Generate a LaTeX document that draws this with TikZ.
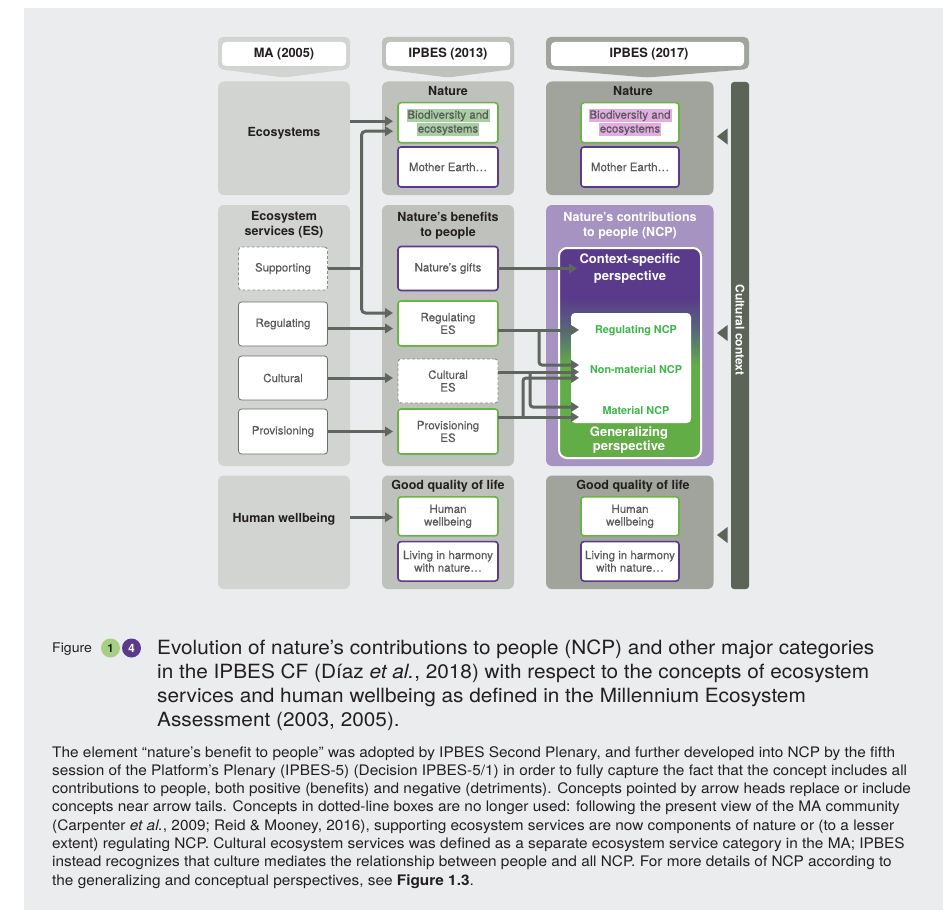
\documentclass[tikz,border=0pt]{standalone}
\usepackage{fontspec}
\setmainfont{TeX Gyre Heros}
\newfontfamily\medfont[FakeBold=0.3]{TeX Gyre Heros}
\newfontfamily\widefont[FakeStretch=1.06]{TeX Gyre Heros}
\usetikzlibrary{arrows.meta,calc}

\definecolor{panel}{HTML}{EBECED}
\definecolor{cone}{HTML}{D2D4D1}
\definecolor{ctwo}{HTML}{BFC1BC}
\definecolor{cthree}{HTML}{A0A49D}
\definecolor{barc}{HTML}{5C6459}
\definecolor{arrc}{HTML}{5E665F}
\definecolor{ncpbg}{HTML}{A793C1}
\definecolor{gbord}{HTML}{6AB446}
\definecolor{pbord}{HTML}{5B3A8D}
\definecolor{txtd}{HTML}{231F20}
\definecolor{txtg}{HTML}{58595B}
\definecolor{ncpg}{HTML}{3DB54A}
\definecolor{hlgreen}{HTML}{A8CFA2}
\definecolor{hlpink}{HTML}{E3ADE2}
\definecolor{gradg}{HTML}{62AD45}
\definecolor{gradm}{HTML}{586A78}
\definecolor{gradp}{HTML}{5A3B8B}
\definecolor{circg}{HTML}{A5CF82}
\definecolor{oboxc}{HTML}{6D6E71}
\definecolor{dashc}{HTML}{8A8B8D}

\pgfdeclareverticalshading{ncpshade}{100bp}{color(0bp)=(gradg); color(25bp)=(gradg); color(47bp)=(gradg); color(55bp)=(gradm); color(63bp)=(gradp); color(100bp)=(gradp)}

\newcommand\hlG[1]{{\setlength{\fboxsep}{1pt}\colorbox{hlgreen}{\vphantom{Bg}#1}}}
\newcommand\hlP[1]{{\setlength{\fboxsep}{1pt}\colorbox{hlpink}{\vphantom{Bg}#1}}}

\tikzset{
 hdr/.style={font=\bfseries\fontsize{12.8}{14}\selectfont, text=txtd, inner sep=0pt},
 ttl/.style={font=\bfseries\fontsize{12.5}{15}\selectfont, text=txtd, align=center, inner sep=0pt},
 wttl/.style={ttl, text=white},
 bgbox/.style={rectangle, rounded corners=6pt, inner sep=0pt, outer sep=0pt},
 ibox/.style={rectangle, rounded corners=3pt, fill=white, line width=1.6pt, inner sep=0pt, outer sep=0pt, align=center, font=\medfont\fontsize{11.5}{12.6}\selectfont, text=txtg, minimum width=100pt},
 gbox/.style={ibox, draw=gbord},
 pbox/.style={ibox, draw=pbord},
 obox/.style={ibox, draw=oboxc, line width=0.8pt, minimum width=89pt},
 dbox/.style={ibox, draw=dashc, line width=0.9pt, dash pattern=on 3pt off 2pt},
 arr/.style={draw=arrc, line width=3pt, -{Triangle[length=8pt,width=9.5pt]}},
 arrb/.style={arr, shorten >=5pt},
 lnk/.style={draw=arrc, line width=3pt},
 ncpl/.style={font=\bfseries\fontsize{10.8}{12}\selectfont, text=ncpg, inner sep=0pt},
 captl/.style={anchor=base west, inner sep=0pt, text=txtd, font=\widefont\fontsize{19.6}{22}\selectfont},
 bodyl/.style={anchor=base west, inner sep=0pt, text=txtd, font=\widefont\fontsize{14.5}{16}\selectfont},
}

\begin{document}
\begin{tikzpicture}[x=1pt,y=-1pt]
\useasboundingbox (0,0) rectangle (952,923);
\fill[white] (0,0) rectangle (952,923);
\fill[panel] (24,8) rectangle (943,910);

% headers
\fill[cone, rounded corners=5pt] (218,37) -- (350,37) -- (350,69) -- (284,77.5) -- (218,69) -- cycle;
\fill[white, rounded corners=4pt] (222,42) rectangle (346,66);
\node[hdr] (hma) at (284,54) {MA (2005)};
\fill[ctwo, rounded corners=5pt] (382,37) -- (514,37) -- (514,69) -- (448,77.5) -- (382,69) -- cycle;
\fill[white, rounded corners=4pt] (386,42) rectangle (510,66);
\node[hdr] (hib13) at (448,54) {IPBES (2013)};
\fill[cthree, rounded corners=5pt] (546,37) -- (749,37) -- (749,69) -- (647.5,77.5) -- (546,69) -- cycle;
\fill[white, rounded corners=4pt] (551,42) rectangle (744,66);
\node[hdr] (hib17) at (649,54) {IPBES (2017)};

% column backgrounds
\node[bgbox, fill=cone, minimum width=132pt, minimum height=113.5pt] (r1c1) at (284,138.25) {};
\node[bgbox, fill=ctwo, minimum width=132pt, minimum height=113.5pt] (r1c2) at (448,138.25) {};
\node[bgbox, fill=cthree, minimum width=167.5pt, minimum height=113.5pt] (r1c3) at (629.75,138.25) {};
\node[bgbox, fill=cone, minimum width=132pt, minimum height=261pt] (r2c1) at (284,335.5) {};
\node[bgbox, fill=ctwo, minimum width=132pt, minimum height=261pt] (r2c2) at (448,335.5) {};
\node[bgbox, fill=ncpbg, minimum width=167.5pt, minimum height=261pt] (r2c3) at (629.75,335.5) {};
\node[bgbox, fill=cone, minimum width=132pt, minimum height=113.5pt] (r3c1) at (284,532.25) {};
\node[bgbox, fill=ctwo, minimum width=132pt, minimum height=113.5pt] (r3c2) at (448,532.25) {};
\node[bgbox, fill=cthree, minimum width=167.5pt, minimum height=113.5pt] (r3c3) at (629.75,532.25) {};

% cultural context bar
\node[rectangle, rounded corners=3pt, fill=barc, minimum width=18pt, minimum height=507pt, inner sep=0pt] (cbar) at (740,335.5) {};
\node[rotate=-90, text=white, font=\bfseries\fontsize{12}{14}\selectfont, inner sep=0pt] (ctext) at (740,330) {Cultural context};
\fill[barc] (717,136.5) -- (727.5,128.5) -- (727.5,144.5) -- cycle;
\fill[barc] (717,333) -- (727.5,325) -- (727.5,341) -- cycle;
\fill[barc] (717,535) -- (727.5,527) -- (727.5,543) -- cycle;

% titles
\node[ttl] (teco) at (284,133) {Ecosystems};
\node[ttl] (tnat2) at (448,91.5) {Nature};
\node[ttl] (tnat3) at (633,91.5) {Nature};
\node[ttl] (tes) at (284,225) {Ecosystem\\services (ES)};
\node[ttl] (tnb) at (448,226) {Nature’s benefits\\to people};
\node[wttl] (tncp) at (630,225.5) {Nature’s contributions\\to people (NCP)};
\node[ttl] (thw) at (284,519) {Human wellbeing};
\node[ttl] (tgq2) at (448,486) {Good quality of life};
\node[ttl] (tgq3) at (633,486) {Good quality of life};

% NCP gradient panel
\node[rectangle, draw=white, line width=2pt, rounded corners=8pt, shading=ncpshade, minimum width=142pt, minimum height=210pt, inner sep=0pt] (grad) at (630,353) {};
\node[rectangle, fill=white, rounded corners=4pt, minimum width=120pt, minimum height=110pt, inner sep=0pt] (wbox) at (631,368) {};
\node[wttl, font=\bfseries\fontsize{13}{16.5}\selectfont] (ctx) at (630,268.5) {Context-specific\\perspective};
\node[wttl, font=\bfseries\fontsize{13}{14}\selectfont] (gen) at (629,440) {Generalizing\\perspective};
\node[ncpl] (regncp) at (636,331) {Regulating NCP};
\node[ncpl] (nonncp) at (636,370) {Non-material NCP};
\node[ncpl] (matncp) at (636,411) {Material NCP};

% inner boxes column 2
\node[gbox, minimum height=40pt] (bio2) at (448,122.7) {\hlG{Biodiversity and}\\\hlG{ecosystems}};
\node[pbox, minimum height=40pt] (me2) at (448,167) {Mother Earth…};
\node[pbox, minimum height=44pt] (gifts) at (448,268.5) {Nature’s gifts};
\node[gbox, minimum height=45pt] (reges) at (448,323.5) {Regulating\\ES};
\node[dbox, minimum height=44pt] (cultes) at (448,381) {Cultural\\ES};
\node[gbox, minimum height=45pt] (proves) at (448,431.5) {Provisioning\\ES};
\node[gbox, minimum height=39pt] (hw2) at (448,516.3) {Human\\wellbeing};
\node[pbox, minimum height=39.5pt] (lh2) at (448,561.3) {Living in harmony\\with nature…};
% column 3
\node[gbox, minimum width=98pt, minimum height=40pt] (bio3) at (630,122.7) {\hlP{Biodiversity and}\\\hlP{ecosystems}};
\node[pbox, minimum width=98pt, minimum height=40pt] (me3) at (630,167) {Mother Earth…};
\node[gbox, minimum width=98pt, minimum height=39pt] (hw3) at (630,516.3) {Human\\wellbeing};
\node[pbox, minimum width=98pt, minimum height=39.5pt] (lh3) at (630,561.3) {Living in harmony\\with nature…};
% column 1
\node[dbox, minimum width=89pt, minimum height=43pt] (supp) at (283,268.5) {Supporting};
\node[obox, minimum height=44pt] (reg) at (283,324) {Regulating};
\node[obox, minimum height=44pt] (cult) at (283,378) {Cultural};
\node[obox, minimum height=45pt] (prov) at (283,431.5) {Provisioning};

% connectors column 1 -> column 2
\coordinate (vx) at (361.5,0);
\coordinate (t1) at ([yshift=1.5pt]bio2.west);
\draw[arrb] (r1c1.east |- t1) -- (t1);
\coordinate (t2) at ([yshift=-8.5pt]bio2.west);
\coordinate (t3) at ([yshift=10.5pt]reges.west);
\draw[lnk] (supp.east) -- (supp.east -| vx);
\draw[arrb, rounded corners=4pt] (supp.east -| vx) |- (t2);
\draw[arrb, rounded corners=4pt] (supp.east -| vx) |- (t3);
\coordinate (t4) at ([yshift=-5pt]reges.west);
\draw[arrb] (reg.east |- t4) -- (t4);
\draw[arrb] (cult.east) -- (cult.east -| cultes.west);
\draw[arrb] (prov.east) -- (prov.east -| proves.west);
\coordinate (t6) at ([yshift=-1pt]hw2.west);
\draw[arrb] (r3c1.east |- t6) -- (t6);

% connectors column 2 -> NCP
\coordinate (tipc) at (577,0);
\coordinate (tipcol) at (579,0);
\draw[arr] (gifts.east) -- (gifts.east -| tipc);
\coordinate (s8) at ([yshift=-6.5pt]reges.east);
\coordinate (bx1) at (539,0);
\coordinate (y8) at (0,365);
\draw[arr] (s8) -- (s8 -| tipcol);
\draw[arr, rounded corners=3pt] (s8 -| bx1) |- (y8 -| tipcol);
\coordinate (s9) at ([yshift=9pt]cultes.east);
\coordinate (bx2) at (530,0);
\coordinate (y9) at (0,407);
\draw[arr] (s9) -- (s9 -| tipcol);
\draw[arr, rounded corners=3pt] (s9 -| bx2) |- (y9 -| tipcol);
\coordinate (s10) at ([yshift=14.5pt]proves.east);
\coordinate (bx3) at (523,0);
\coordinate (y10) at (0,378);
\draw[arr] (s10) -- (s10 -| tipcol);
\draw[arr, rounded corners=3pt] (s10 -| bx3) |- (y10 -| tipcol);

% caption
\node[anchor=base west, inner sep=0pt, text=txtd, font=\widefont\fontsize{13.3}{14}\selectfont] (figl) at (52,652.5) {Figure};
\node[circle, fill=circg, minimum size=19pt, inner sep=0pt, text=txtd, font=\bfseries\fontsize{11.5}{12}\selectfont] (cone1) at (110.5,648) {1};
\node[circle, fill=pbord, minimum size=19pt, inner sep=0pt, text=white, font=\bfseries\fontsize{11.5}{12}\selectfont] (cfour) at (131.5,648) {4};
\node[captl] (ti1) at (157,654.5) {Evolution of nature’s contributions to people (NCP) and other major categories};
\node[captl] (ti2) at (157,678.4) {in the IPBES CF (Díaz \textit{et al.}, 2018) with respect to the concepts of ecosystem};
\node[captl] (ti3) at (157,702.3) {services and human wellbeing as defined in the Millennium Ecosystem};
\node[captl] (ti4) at (157,726.2) {Assessment (2003, 2005).};

\node[bodyl] (bd1) at (52,757) {The element “nature’s benefit to people” was adopted by IPBES Second Plenary, and further developed into NCP by the fifth};
\node[bodyl] (bd2) at (52,775.3) {session of the Platform’s Plenary (IPBES-5) (Decision IPBES-5/1) in order to fully capture the fact that the concept includes all};
\node[bodyl] (bd3) at (52,793.6) {contributions to people, both positive (benefits) and negative (detriments). Concepts pointed by arrow heads replace or include};
\node[bodyl] (bd4) at (52,811.9) {concepts near arrow tails. Concepts in dotted-line boxes are no longer used: following the present view of the MA community};
\node[bodyl] (bd5) at (52,830.2) {(Carpenter \textit{et al.}, 2009; Reid \& Mooney, 2016), supporting ecosystem services are now components of nature or (to a lesser};
\node[bodyl] (bd6) at (52,848.5) {extent) regulating NCP. Cultural ecosystem services was defined as a separate ecosystem service category in the MA; IPBES};
\node[bodyl] (bd7) at (52,866.8) {instead recognizes that culture mediates the relationship between people and all NCP. For more details of NCP according to};
\node[bodyl] (bd8) at (52,885.1) {the generalizing and conceptual perspectives, see \textbf{Figure 1.3}.};
\end{tikzpicture}
\end{document}
